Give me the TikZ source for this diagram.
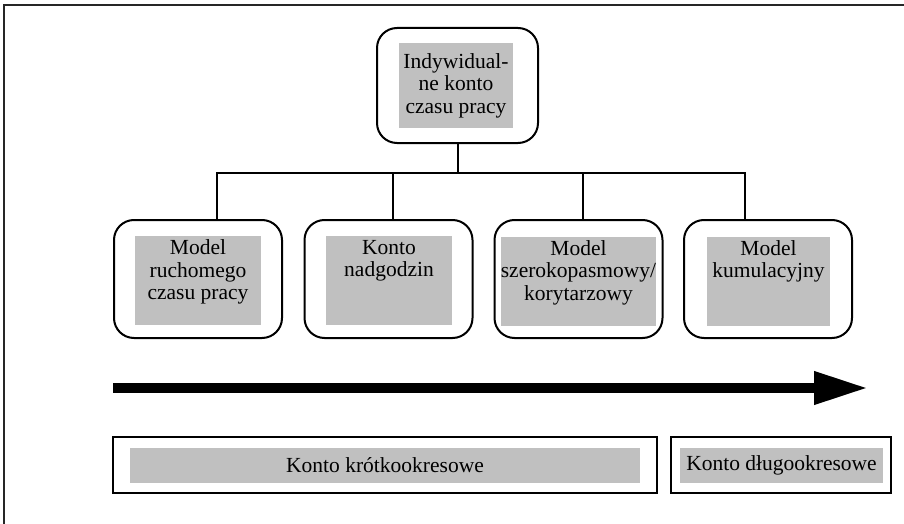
\documentclass[tikz,border=0pt]{standalone}
\usepackage{fontspec}
\setmainfont{Liberation Serif}
\usetikzlibrary{arrows.meta,positioning}
\definecolor{shadegrey}{RGB}{192,192,192}

\begin{document}
\begin{tikzpicture}[x=0.5pt, y=-0.5pt,
	font=\fontsize{10.75}{11.25}\selectfont,
	modelbox/.style={draw, line width=1pt, rounded corners=10pt, minimum width=84pt, minimum height=59pt, inner sep=0pt},
	greyfill/.style={fill=shadegrey, inner sep=0pt, minimum height=44.5pt},
	txt/.style={align=center, inner sep=2pt, anchor=north},
	periodbox/.style={draw, line width=1pt, minimum height=28pt, inner sep=0pt},
	link/.style={line width=1pt}]
	
		\useasboundingbox (0,0) rectangle (904,524);
		\draw[line width=1pt, black!85] (4,524) -- (4,5) -- (904,5);
		
		% top node
		\node[modelbox, minimum width=80.5pt, minimum height=57.5pt] (konto) at (457.5,85.5) {};
		\node[greyfill, minimum width=57pt, minimum height=42.5pt, align=center] (kontoG) at (456,85.5) {Indywidual-\\ne konto\\czasu pracy};
		
		% models
		\node[modelbox] (ruch) at (198,279) {};
		\node[greyfill, minimum width=63pt] (ruchG) at (198,280.5) {};
		\node[txt] (ruchT) at (ruchG.north) {Model\\ruchomego\\czasu pracy};
		
		\node[modelbox] (nadg) at (388.5,279) {};
		\node[greyfill, minimum width=63pt] (nadgG) at (389,280.5) {};
		\node[txt] (nadgT) at (nadgG.north) {Konto\\nadgodzin};
		
		\node[modelbox] (szer) at (578.5,279) {};
		\node[greyfill, minimum width=77.5pt] (szerG) at (578.5,281) {};
		\node[txt] (szerT) at (szerG.north) {Model\\szerokopasmowy/\\korytarzowy};
		
		\node[modelbox] (kumu) at (768,279) {};
		\node[greyfill, minimum width=61.5pt] (kumuG) at (768.5,281) {};
		\node[txt] (kumuT) at (kumuG.north) {Model\\kumulacyjny};
		
		\draw[link] (konto.south) -- ++(0,29) -| ([xshift=9.5pt]ruch.north);
		\draw[link] (konto.south) -- ++(0,29) -| ([xshift=2.25pt]nadg.north);
		\draw[link] (konto.south) -- ++(0,29) -| ([xshift=2.25pt]szer.north);
		\draw[link] (konto.south) -- ++(0,29) -| ([xshift=-11.5pt]kumu.north);
		
		% time axis
		\coordinate (timeS) at (113,388);
		\coordinate (timeE) at (868,388);
		\draw[line width=5pt, -{Triangle[length=27pt, width=15.5pt]}] (timeS) -- (timeE);
		
		% periods
		\node[periodbox, minimum width=272pt] (krotko) at (385,465) {};
		\node[greyfill, minimum width=255pt, minimum height=17.5pt] (krotkoG) at (385,465.5) {Konto krótkookresowe};
		\node[periodbox, minimum width=110pt] (dlugo) at (781,465) {};
		\node[greyfill, minimum width=101.5pt, minimum height=17.5pt] (dlugoG) at (781.5,465.5) {Konto długookresowe};
		
	\end{tikzpicture}
\end{document}
